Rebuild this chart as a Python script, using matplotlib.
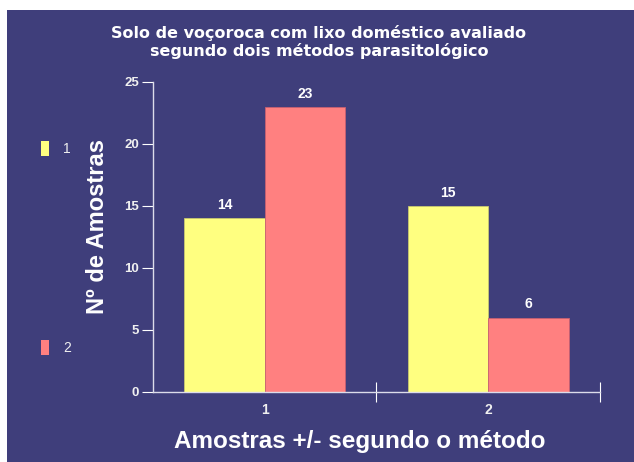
import matplotlib
matplotlib.use("Agg")
from matplotlib import pyplot as plt
from matplotlib.patches import Rectangle, Patch
import numpy as np

groups = ["1", "2"]
series_names = ["1", "2"]
metodo1 = [14, 15]
metodo2 = [23, 6]

bg = "#3f3e7b"
yellow = "#ffff80"
red = "#ff8080"
axcol = "#dcdcea"

plt.rcParams["font.family"] = ["Liberation Sans", "DejaVu Sans"]

fig = plt.figure(figsize=(6.34, 4.62), dpi=100, facecolor="white")
fig.patches.append(Rectangle((7 / 634, 0), 627 / 634, 452 / 462,
                             transform=fig.transFigure, facecolor=bg,
                             edgecolor="none", zorder=-5))

ax = fig.add_axes([153 / 634, 1 - 392 / 462, 447 / 634, 310 / 462])
ax.set_facecolor("none")
ax.set_zorder(2)

x = np.arange(len(groups)) + 0.5
w = 0.36
b1 = ax.bar(x - w / 2, metodo1, w, color=yellow, edgecolor="#c8c870", linewidth=0.6)
b2 = ax.bar(x + w / 2, metodo2, w, color=red, edgecolor="#c86070", linewidth=0.6)

for bars in (b1, b2):
    for r in bars:
        ax.text(r.get_x() + r.get_width() / 2, r.get_height() + 0.5,
                "%d" % r.get_height(), ha="center", va="bottom",
                color="white", fontsize=10, fontweight="bold")

ax.set_xlim(0, 2)
ax.set_ylim(0, 25)
ax.set_yticks([0, 5, 10, 15, 20, 25])
ax.set_xticks([1, 2])
ax.set_xticklabels([])
ax.set_xticks(x, minor=True)
ax.set_xticklabels(groups, minor=True)
ax.tick_params(axis="x", which="minor", length=0, pad=8)
ax.tick_params(axis="x", which="major", direction="inout", length=14, color=axcol)
ax.tick_params(axis="y", direction="out", length=8, color=axcol, pad=2)
ax.tick_params(colors="white", labelsize=9.5)
for lab in ax.get_xticklabels(minor=True) + ax.get_yticklabels():
    lab.set_fontweight("bold")
    lab.set_color("#f0f0f0")

for s in ["top", "right"]:
    ax.spines[s].set_visible(False)
for s in ["left", "bottom"]:
    ax.spines[s].set_color(axcol)
    ax.spines[s].set_linewidth(1.0)

fig.text(319 / 634, 1 - 42 / 462,
         "Solo de voçoroca com lixo doméstico avaliado\nsegundo dois métodos parasitológico",
         ha="center", va="center", color="white", fontsize=11.5, fontweight="bold",
         family="DejaVu Sans", linespacing=1.15)

ax.set_ylabel("Nº de Amostras", color="white", fontsize=17, fontweight="bold")
ax.yaxis.set_label_coords(-0.098, 0.535)
ax.set_xlabel("Amostras +/- segundo o método", color="white", fontsize=17.5,
              fontweight="bold")
ax.xaxis.set_label_coords(0.463, -0.123)

handles = [Patch(facecolor=yellow, edgecolor="none"), Patch(facecolor=red, edgecolor="none")]
leg = fig.legend(handles, series_names, loc="upper left",
                 bbox_to_anchor=(41 / 634, 1 - 141 / 462), frameon=False,
                 borderpad=0, borderaxespad=0,
                 labelspacing=13.2, handlelength=0.6, handleheight=1.3,
                 handletextpad=1.0, fontsize=10, labelcolor="#f0f0f0")

fig.savefig("out.png", dpi=100, facecolor="white")
